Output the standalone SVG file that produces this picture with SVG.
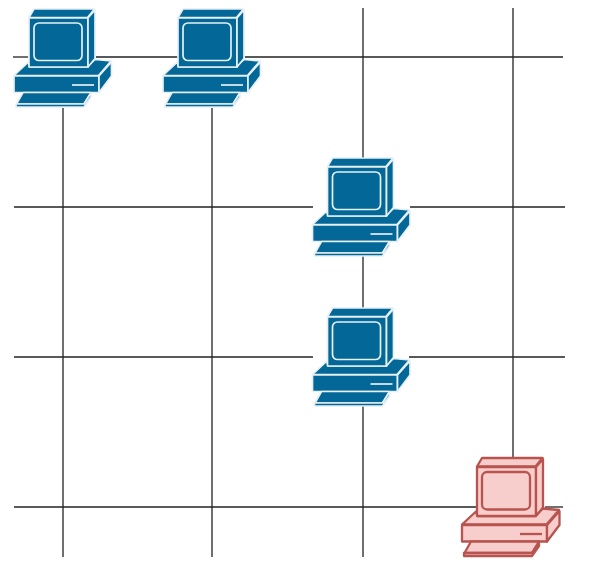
<svg xmlns="http://www.w3.org/2000/svg" width="595" height="569" viewBox="0 0 595 569">
<style>
.c line{stroke:#222;stroke-width:1.3;fill:none}
.blue{fill:#036897;stroke:#e6f0f5;stroke-width:1.7;stroke-linejoin:round}
.red{fill:#f8cecc;stroke:#b85450;stroke-width:2.3;stroke-linejoin:round}
</style>
<defs>
<g id="pc">
<path d="M14 75.500L28 62.500L30 67H87L95 59.500L111 61L98.500 75.500Z"/>
<path d="M14 76H99V92.500H14Z"/>
<path d="M99 92.500V76L111.500 62V76Z"/>
<path d="M72 85H94"/>
<path d="M23 92.500H91L84 104H16.500Z"/>
<path d="M91 93V97L84 107H16V104H84Z"/>
<path d="M34 9H94.500L87.500 17.500H29Z"/>
<path d="M29 18H88V67H29Z"/>
<path d="M88 18L95 10V58.500L88 67Z"/>
<rect x="34" y="23" width="48" height="37.500" rx="5"/>
</g>
</defs>
<g id="connectors" class="c">
<line x1="13" y1="57" x2="28" y2="57"/>
<line x1="96" y1="57" x2="178" y2="57"/>
<line x1="245" y1="57" x2="563" y2="57"/>
<line x1="14" y1="207" x2="313" y2="207"/>
<line x1="410" y1="207" x2="565" y2="207"/>
<line x1="14" y1="357" x2="313" y2="357"/>
<line x1="409" y1="357" x2="565" y2="357"/>
<line x1="14" y1="507" x2="478" y2="507"/>
<line x1="545" y1="507" x2="563" y2="507"/>
<line x1="63" y1="108" x2="63" y2="557"/>
<line x1="212" y1="108" x2="212" y2="557"/>
<line x1="363" y1="8" x2="363" y2="158"/>
<line x1="363" y1="256" x2="363" y2="308"/>
<line x1="363" y1="406" x2="363" y2="557"/>
<line x1="513" y1="8" x2="513" y2="457"/>
</g>
<g id="pc1" class="blue"><use href="#pc"/></g>
<g id="pc2" class="blue"><use href="#pc" x="149"/></g>
<g id="pc3" class="blue"><use href="#pc" x="298.500" y="149"/></g>
<g id="pc4" class="blue"><use href="#pc" x="298.500" y="299"/></g>
<g id="pc5" class="red"><use href="#pc" x="448" y="449"/></g>
</svg>
